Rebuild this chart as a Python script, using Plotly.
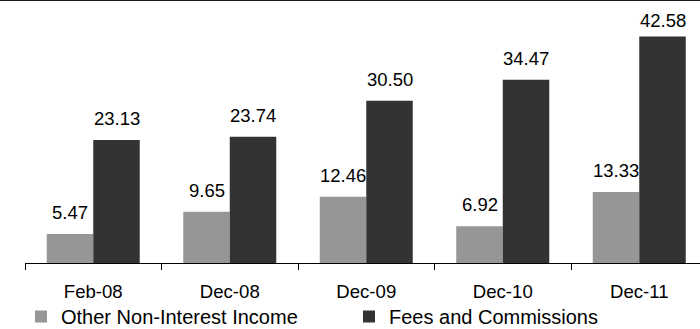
import plotly.graph_objects as go

# Non-interest income breakdown by reporting period
periods = ["Feb-08", "Dec-08", "Dec-09", "Dec-10", "Dec-11"]
other_income = [5.47, 9.65, 12.46, 6.92, 13.33]
fees_commissions = [23.13, 23.74, 30.50, 34.47, 42.58]
series_names = ["Other Non-Interest Income", "Fees and Commissions"]
series_colors = ["#969696", "#333333"]

FONT = "Liberation Sans, Arial, sans-serif"
BARGAP = 0.3187
Y_MAX = 49.44
LABEL_GAP = 1.65       # space between bar top and its value label (data units)
LABEL_CEILING = 43.3   # keep value labels below this level

fig = go.Figure()
for name, values, color in zip(series_names, [other_income, fees_commissions], series_colors):
    fig.add_bar(x=periods, y=values, name=name,
                marker=dict(color=color, line=dict(width=0)))

# value labels above each bar
bar_w = (1 - BARGAP) / 2
annotations = []
for i, values in enumerate([other_income, fees_commissions]):
    for k, v in enumerate(values):
        annotations.append(dict(
            x=k + (i - 0.5) * bar_w, y=min(v + LABEL_GAP, LABEL_CEILING),
            xref="x", yref="y", text=f"{v:.2f}", showarrow=False,
            xanchor="center", yanchor="bottom",
            font=dict(family=FONT, size=18.5, color="#000000"),
        ))

fig.update_layout(
    width=700, height=329,
    margin=dict(l=25, r=0, t=0, b=66, autoexpand=False),
    paper_bgcolor="white", plot_bgcolor="white",
    barmode="group", bargap=BARGAP, bargroupgap=0,
    font=dict(family=FONT, color="#000000"),
    annotations=annotations,
    showlegend=True,
    legend=dict(orientation="h", xref="container", yref="container",
                x=21 / 700, xanchor="left", y=(329 - 297) / 329, yanchor="top",
                font=dict(family=FONT, size=20, color="#000000"),
                entrywidth=283, entrywidthmode="pixels",
                bgcolor="rgba(0,0,0,0)", borderwidth=0),
    shapes=[dict(type="line", xref="paper", yref="paper",
                 x0=-25 / 675, x1=1, y0=1, y1=1,
                 line=dict(color="#1a1a1a", width=2))],
)
fig.update_xaxes(range=[-0.5, -0.5 + 675 / 136.5], type="category",
                 showline=True, linecolor="#000000", linewidth=1.3,
                 ticks="outside", tickson="boundaries", ticklen=6, tickwidth=1,
                 tickcolor="#000000", showgrid=False, zeroline=False,
                 ticklabelstandoff=12, automargin=False,
                 tickfont=dict(family=FONT, size=18.6, color="#000000"))
fig.update_yaxes(range=[0, Y_MAX], visible=False, showgrid=False, zeroline=False)

fig.write_html("out.html")
